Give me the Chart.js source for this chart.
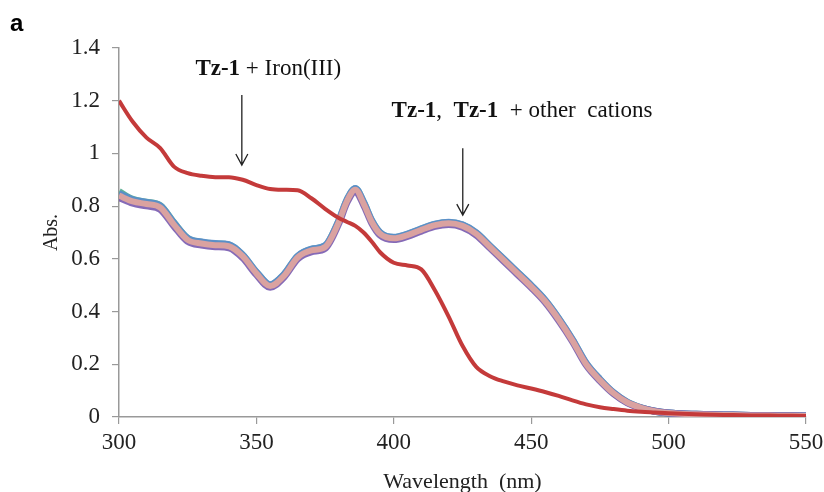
<!DOCTYPE html>
<html>
<head>
<meta charset="utf-8">
<script src="https://cdn.jsdelivr.net/npm/chart.js@4.4.0/dist/chart.umd.min.js"></script>
<style>
  html, body { margin: 0; padding: 0; background: #fff; }
  #wrap { width: 824px; height: 492px; position: relative; }
</style>
</head>
<body>
<div id="wrap"><canvas id="c"></canvas></div>
<script>
// wavelengths (nm)
const wavelengths = [300, 305, 310, 315, 320, 325, 330, 335, 340, 345, 350, 355, 360, 365, 370, 375,
  380, 383, 386, 389, 392, 395, 400, 405, 410, 415, 420, 425, 430, 435, 440, 445, 450, 455, 460, 465,
  470, 475, 480, 485, 490, 495, 500, 510, 520, 530, 540, 550];

// Tz-1 + Iron(III)
const ironAbs = [1.20, 1.12, 1.06, 1.02, 0.95, 0.925, 0.915, 0.91, 0.91, 0.90, 0.88, 0.865, 0.862, 0.86, 0.83, 0.79,
  0.755, 0.74, 0.725, 0.70, 0.665, 0.625, 0.585, 0.575, 0.56, 0.48, 0.38, 0.27, 0.19, 0.155, 0.135, 0.12,
  0.108, 0.095, 0.08, 0.063, 0.048, 0.037, 0.03, 0.024, 0.02, 0.017, 0.014, 0.01, 0.008, 0.006, 0.005, 0.004];

// Tz-1 and Tz-1 + other cations (overlapping traces)
const greenAbs = [0.855, 0.826, 0.815, 0.802, 0.737, 0.678, 0.663, 0.657, 0.653, 0.614, 0.549, 0.501, 0.539, 0.609, 0.636, 0.649,
  0.744, 0.824, 0.866, 0.814, 0.744, 0.699, 0.681, 0.693, 0.713, 0.731, 0.738, 0.728, 0.698, 0.648, 0.598, 0.548,
  0.498, 0.443, 0.373, 0.293, 0.203, 0.142, 0.091, 0.056, 0.035, 0.022, 0.015, 0.01, 0.008, 0.006, 0.005, 0.004];
const blueAbs = [0.848, 0.824, 0.814, 0.801, 0.736, 0.678, 0.664, 0.658, 0.654, 0.615, 0.55, 0.502, 0.54, 0.61, 0.637, 0.65,
  0.745, 0.825, 0.867, 0.815, 0.745, 0.7, 0.682, 0.694, 0.714, 0.732, 0.739, 0.729, 0.699, 0.649, 0.599, 0.549,
  0.499, 0.444, 0.374, 0.294, 0.204, 0.143, 0.092, 0.056, 0.035, 0.022, 0.015, 0.01, 0.008, 0.006, 0.005, 0.004];
const purpleAbs = [0.832, 0.811, 0.801, 0.788, 0.724, 0.666, 0.652, 0.646, 0.642, 0.604, 0.54, 0.492, 0.53, 0.6, 0.627, 0.64,
  0.735, 0.815, 0.856, 0.805, 0.735, 0.69, 0.673, 0.685, 0.705, 0.723, 0.73, 0.72, 0.69, 0.641, 0.591, 0.541,
  0.491, 0.436, 0.366, 0.287, 0.197, 0.137, 0.088, 0.054, 0.034, 0.022, 0.015, 0.01, 0.008, 0.006, 0.005, 0.004];
const pinkAbs = [0.84, 0.818, 0.808, 0.795, 0.73, 0.672, 0.658, 0.652, 0.648, 0.61, 0.545, 0.497, 0.535, 0.605, 0.632, 0.645,
  0.74, 0.82, 0.862, 0.81, 0.74, 0.695, 0.678, 0.69, 0.71, 0.728, 0.735, 0.725, 0.695, 0.645, 0.595, 0.545,
  0.495, 0.44, 0.37, 0.29, 0.2, 0.14, 0.09, 0.055, 0.035, 0.022, 0.015, 0.01, 0.008, 0.006, 0.005, 0.004];

const xTicks = [300, 350, 400, 450, 500, 550];
const yTicks = [0, 0.2, 0.4, 0.6, 0.8, 1, 1.2, 1.4];

function pts(ys) {
  return wavelengths.map((w, i) => ({ x: w, y: ys[i] }));
}

// lower "order" is drawn on top
function line(label, ys, color, width, order) {
  return {
    label: label,
    data: pts(ys),
    borderColor: color,
    borderWidth: width,
    order: order,
    pointRadius: 0,
    fill: false,
    tension: 0.4,
    cubicInterpolationMode: 'monotone'
  };
}

const serif = '"Liberation Serif", "Times New Roman", serif';

// text labels and arrows, placed in data units
const annotations = {
  id: 'annotations',
  afterDatasetsDraw(chart) {
    const ctx = chart.ctx;
    const xs = chart.scales.x, ys = chart.scales.y;
    ctx.save();
    ctx.fillStyle = '#111';
    ctx.strokeStyle = '#222';
    ctx.lineWidth = 1.3;

    function arrow(w, y0, y1) {
      const x = xs.getPixelForValue(w);
      const a = ys.getPixelForValue(y0), b = ys.getPixelForValue(y1);
      ctx.beginPath();
      ctx.moveTo(x, a);
      ctx.lineTo(x, b);
      ctx.moveTo(x - 6, b - 11);
      ctx.lineTo(x, b);
      ctx.lineTo(x + 6, b - 11);
      ctx.stroke();
    }

    function parts(list, w, y) {
      let x = xs.getPixelForValue(w);
      const py = ys.getPixelForValue(y);
      ctx.textBaseline = 'alphabetic';
      ctx.textAlign = 'left';
      list.forEach(p => {
        ctx.font = (p.bold ? 'bold ' : '') + '23px ' + serif;
        ctx.fillText(p.t, x, py);
        x += ctx.measureText(p.t).width;
      });
    }

    arrow(344.7, 1.222, 0.956);
    arrow(425.1, 1.02, 0.766);
    parts([{ t: 'Tz-1', bold: true }, { t: ' + Iron(III)' }], 327.8, 1.297);
    parts([{ t: 'Tz-1', bold: true }, { t: ',  ' }, { t: 'Tz-1', bold: true }, { t: '  + other  cations' }], 399.2, 1.137);

    // panel letter
    ctx.font = 'bold 24px "Liberation Sans", Arial, sans-serif';
    ctx.fillStyle = '#000';
    ctx.fillText('a', 10, 31);
    ctx.restore();
  }
};

new Chart(document.getElementById('c'), {
  type: 'line',
  data: {
    datasets: [
      line('Tz-1 + Na', greenAbs, 'rgba(80, 170, 140, 0.9)', 7, 5),
      line('Tz-1 + K', blueAbs, 'rgba(90, 140, 205, 0.9)', 7, 4),
      line('Tz-1 + Mg', purpleAbs, 'rgba(120, 90, 175, 0.9)', 7, 3),
      line('Tz-1', pinkAbs, 'rgb(218, 162, 160)', 6, 2),
      line('Tz-1 + Iron(III)', ironAbs, 'rgb(196, 58, 58)', 4, 1)
    ]
  },
  options: {
    responsive: true,
    maintainAspectRatio: false,
    animation: false,
    layout: { padding: { top: 48, right: 18, left: 0, bottom: 0 } },
    plugins: { legend: { display: false }, tooltip: { enabled: false } },
    scales: {
      x: {
        type: 'linear',
        min: 300,
        max: 550,
        afterBuildTicks: (axis) => { axis.ticks = xTicks.map(v => ({ value: v })); },
        afterFit: (axis) => { axis.height = 75; axis.paddingRight = 0; axis.paddingLeft = 0; },
        grid: { drawOnChartArea: false, tickLength: 7, color: '#999', lineWidth: 1.2 },
        border: { color: '#999', width: 1.5 },
        ticks: { color: '#222', padding: 5, maxRotation: 0, font: { family: serif, size: 23 } },
        title: {
          display: true,
          text: 'Wavelength  (nm)',
          color: '#222',
          font: { family: serif, size: 22, lineHeight: 1 },
          padding: { top: 0, bottom: -1 }
        }
      },
      y: {
        min: 0,
        max: 1.4,
        afterBuildTicks: (axis) => { axis.ticks = yTicks.map(v => ({ value: v })); },
        afterFit: (axis) => { axis.width = 119; },
        grid: { drawOnChartArea: false, tickLength: 7, color: '#999', lineWidth: 1.2 },
        border: { color: '#999', width: 1.5 },
        ticks: {
          color: '#222',
          padding: 12,
          font: { family: serif, size: 23 },
          callback: (v) => String(Math.round(v * 10) / 10)
        },
        title: {
          display: true,
          text: 'Abs.',
          color: '#222',
          font: { family: serif, size: 20 },
          padding: { top: 40, bottom: 0 }
        }
      }
    }
  },
  plugins: [annotations]
});
</script>
</body>
</html>
